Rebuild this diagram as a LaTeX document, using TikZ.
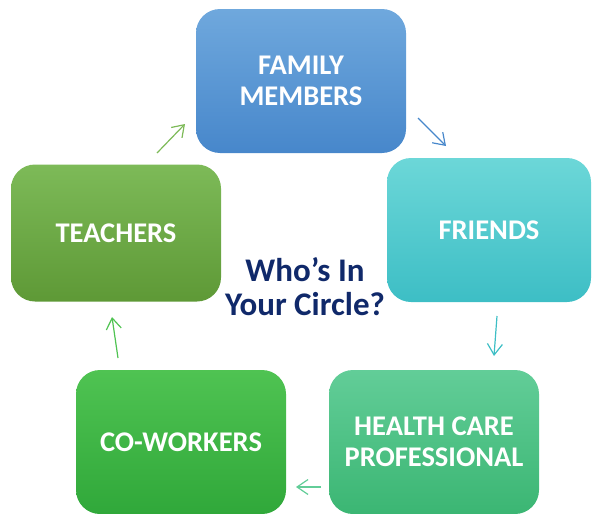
\documentclass[tikz,border=0pt]{standalone}
\usepackage{fontspec}
\setmainfont{Carlito}
\usetikzlibrary{arrows.meta}

\definecolor{famtop}{HTML}{6FA8DD}
\definecolor{fambot}{HTML}{4787CB}
\definecolor{frtop}{HTML}{6CD7D8}
\definecolor{frbot}{HTML}{3DBEC5}
\definecolor{hctop}{HTML}{62CD98}
\definecolor{hcbot}{HTML}{3BB673}
\definecolor{cwtop}{HTML}{4FC352}
\definecolor{cwbot}{HTML}{30A83A}
\definecolor{tetop}{HTML}{7DBA58}
\definecolor{tebot}{HTML}{5E9936}
\definecolor{circtext}{HTML}{10296A}

\tikzset{
  circbox/.style={rounded corners=24pt, minimum width=210pt, minimum height=144pt,
    text=white, align=center, inner sep=0pt,
    font=\fontsize{28.5}{31}\selectfont\bfseries},
  link/.style={line width=1.2pt, -{Straight Barb[length=11pt,width=15pt,line width=1.2pt]}}
}

\begin{document}
\begin{tikzpicture}[x=1pt,y=-1pt]
  \useasboundingbox (0,0) rectangle (592,514);
  % boxes
  \node[circbox, top color=famtop, bottom color=fambot] (family) at (301,81) {FAMILY\\MEMBERS};
  \node[circbox, minimum width=204pt, top color=frtop, bottom color=frbot] (friends) at (489,230) {FRIENDS};
  \node[circbox, top color=hctop, bottom color=hcbot] (health) at (434,442) {HEALTH CARE\\PROFESSIONAL};
  \node[circbox, top color=cwtop, bottom color=cwbot] (cowork) at (181,442) {CO-WORKERS};
  \node[circbox, minimum height=137pt, top color=tetop, bottom color=tebot] (teach) at (116,233) {TEACHERS};
  % centre text
  \node[align=center, text=circtext, font=\fontsize{33}{34}\selectfont\bfseries] (who) at (305,287) {Who’s In\\Your Circle?};
  % arrow ends
  \coordinate (a1s) at (157,153);
  \coordinate (a1e) at (185,124);
  \coordinate (a2s) at (418,118);
  \coordinate (a2e) at (446,146);
  \coordinate (a3s) at (497,316);
  \coordinate (a3e) at (494,356);
  \coordinate (a4s) at (321,487);
  \coordinate (a4e) at (296,487);
  \coordinate (a5s) at (118,358);
  \coordinate (a5e) at (112,317);
  % arrows
  \draw[link, color=tetop] (a1s) -- (a1e);
  \draw[link, color=fambot] (a2s) -- (a2e);
  \draw[link, color=frbot] (a3s) -- (a3e);
  \draw[link, color=hctop] (a4s) -- (a4e);
  \draw[link, color=cwtop] (a5s) -- (a5e);
\end{tikzpicture}
\end{document}
